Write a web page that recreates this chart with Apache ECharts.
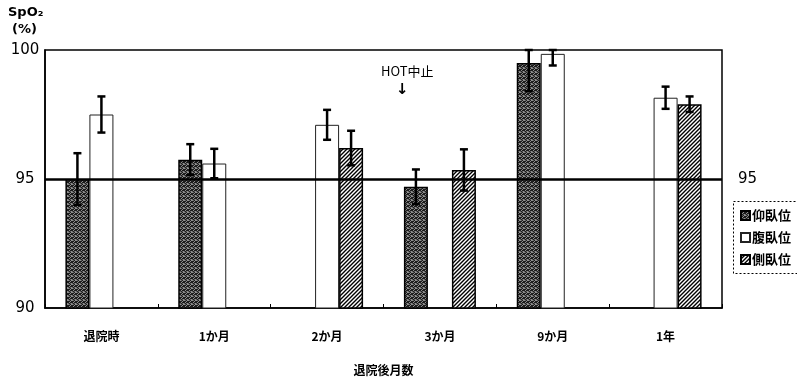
<!DOCTYPE html>
<html>
<head>
<meta charset="utf-8">
<script src="https://cdn.jsdelivr.net/npm/echarts@6/dist/echarts.min.js"></script>
<style>
  html, body { margin: 0; padding: 0; background: #fff; }
  #chart { width: 797px; height: 378px; }
</style>
</head>
<body>
<div id="chart"></div>
<script>
// Months after discharge
const categories = ['退院時', '1か月', '2か月', '3か月', '9か月', '1年'];

// Mean SpO2 (%) by position, with error half-widths
const supine = [95.0, 95.75, null, 94.7, 99.5, null];      // 仰臥位
const supineErr = [1.0, 0.6, null, 0.67, 1.1, null];
const prone = [97.5, 95.6, 97.1, null, 99.85, 98.15];      // 腹臥位
const proneErr = [0.7, 0.57, 0.58, null, 0.45, 0.43];
const lateral = [null, null, 96.2, 95.35, null, 97.9];     // 側臥位
const lateralErr = [null, null, 0.67, 0.8, null, 0.3];

const yMin = 90, yMax = 100, yStep = 5;
const refLine = 95;

// Fill patterns: dark halftone and diagonal hatching
function stipple() {
  const c = document.createElement('canvas');
  c.width = 4; c.height = 4;
  const g = c.getContext('2d');
  g.fillStyle = '#1c1c1c';
  g.fillRect(0, 0, 4, 4);
  g.fillStyle = '#8e8e8e';
  [[0, 0], [2, 1], [1, 2], [3, 3], [3, 0]].forEach(p => g.fillRect(p[0], p[1], 1, 1));
  g.fillStyle = '#5a5a5a';
  [[2, 3], [0, 3], [1, 0]].forEach(p => g.fillRect(p[0], p[1], 1, 1));
  return c;
}
function hatch() {
  const s = 4;
  const c = document.createElement('canvas');
  c.width = s; c.height = s;
  const g = c.getContext('2d');
  g.fillStyle = '#fff';
  g.fillRect(0, 0, s, s);
  g.strokeStyle = '#000';
  g.lineWidth = 1.4;
  g.beginPath();
  g.moveTo(-1, s + 1); g.lineTo(s + 1, -1);
  g.moveTo(-1, 1); g.lineTo(1, -1);
  g.moveTo(s - 1, s + 1); g.lineTo(s + 1, s - 1);
  g.stroke();
  return c;
}

const BAR_W = 24;

function errData(means, errs) {
  const out = [];
  means.forEach((m, i) => {
    if (m != null && errs[i] != null) out.push([i, m - errs[i], m + errs[i]]);
  });
  return out;
}

function errorSeries(name, means, errs, slot) {
  return {
    name: name,
    type: 'custom',
    z: 5,
    silent: true,
    clip: false,
    data: errData(means, errs),
    renderItem: function (params, api) {
      const idx = api.value(0);
      const lo = api.coord([idx, api.value(1)]);
      const hiVal = Math.min(api.value(2), yMax);
      const hi = api.coord([idx, hiVal]);
      const x = lo[0] + (slot - 1) * BAR_W;
      const cap = 4;
      const style = { stroke: '#000', lineWidth: 2.5 };
      return {
        type: 'group',
        children: [
          { type: 'line', shape: { x1: x, y1: lo[1], x2: x, y2: hi[1] }, style: style },
          { type: 'line', shape: { x1: x - cap, y1: hi[1], x2: x + cap, y2: hi[1] }, style: style },
          { type: 'line', shape: { x1: x - cap, y1: lo[1], x2: x + cap, y2: lo[1] }, style: style }
        ]
      };
    }
  };
}

const chart = echarts.init(document.getElementById('chart'));
const jp = '"Noto Sans CJK JP", "Noto Sans", sans-serif';
const num = '"DejaVu Sans", "Liberation Sans", sans-serif';

chart.setOption({
  animation: false,
  backgroundColor: '#fff',
  grid: {
    left: 45, right: 75, top: 50, bottom: 70,
    outerBoundsMode: 'none',
    show: true, borderColor: '#000', borderWidth: 1.5, backgroundColor: 'transparent'
  },
  legend: {
    data: ['仰臥位', '腹臥位', '側臥位'],
    orient: 'vertical',
    left: 735, top: 204,
    itemWidth: 9, itemHeight: 9, itemGap: 9,
    icon: 'rect',
    textStyle: { fontFamily: jp, fontSize: 13, fontWeight: 'bold', color: '#000', padding: [0, 0, 0, -3] },
    selectedMode: false
  },
  graphic: [
    {
      type: 'rect',
      left: 731, top: 199,
      shape: { width: 66, height: 72 },
      style: { fill: 'none', stroke: '#000', lineWidth: 1, lineDash: [2, 2] }
    },
    {
      type: 'text', left: 8, top: 6,
      style: { text: 'SpO₂', font: 'bold 13px ' + num, fill: '#000' }
    },
    {
      type: 'text', left: 12, top: 23,
      style: { text: '(%)', font: 'bold 13px ' + num, fill: '#000' }
    },
    {
      type: 'text', left: 381, top: 65,
      style: { text: 'HOT中止', font: '13px ' + jp, fill: '#000' }
    },
    {
      type: 'text', left: 396, top: 83,
      style: { text: '↓', font: 'bold 15px ' + num, fill: '#000' }
    }
  ],
  xAxis: {
    type: 'category',
    data: categories,
    axisLine: { show: true, lineStyle: { color: '#000', width: 1.5 } },
    axisTick: { show: true, inside: true, length: 4, lineStyle: { color: '#000' } },
    axisLabel: { fontFamily: jp, fontSize: 12, fontWeight: 'bold', color: '#000', margin: 22 },
    name: '退院後月数',
    nameLocation: 'middle',
    nameGap: 56,
    nameTextStyle: { fontFamily: jp, fontSize: 12, fontWeight: 'bold', color: '#000' }
  },
  yAxis: {
    type: 'value',
    min: yMin, max: yMax, interval: yStep,
    axisLine: { show: true, lineStyle: { color: '#000', width: 1.5 } },
    axisTick: { show: false },
    splitLine: { show: false },
    axisLabel: { fontFamily: num, fontSize: 15, color: '#000', margin: 20, align: 'center' }
  },
  series: [
    {
      name: '仰臥位', type: 'bar', data: supine,
      barWidth: BAR_W, barGap: '0%',
      itemStyle: { color: { image: stipple(), repeat: 'repeat' }, borderColor: '#000', borderWidth: 1.5 },
      markLine: {
        silent: true, symbol: 'none',
        lineStyle: { color: '#000', width: 2.5, type: 'solid' },
        label: { show: true, position: 'end', formatter: String(refLine), distance: 16,
                 fontFamily: num, fontSize: 15, color: '#000' },
        data: [{ yAxis: refLine }]
      }
    },
    {
      name: '腹臥位', type: 'bar', data: prone,
      barWidth: BAR_W, barGap: '0%',
      itemStyle: { color: '#fff', borderColor: '#222', borderWidth: 1 }
    },
    {
      name: '側臥位', type: 'bar', data: lateral,
      barWidth: BAR_W, barGap: '0%',
      itemStyle: { color: { image: hatch(), repeat: 'repeat' }, borderColor: '#000', borderWidth: 1.5 }
    },
    errorSeries('err-supine', supine, supineErr, 0),
    errorSeries('err-prone', prone, proneErr, 1),
    errorSeries('err-lateral', lateral, lateralErr, 2)
  ]
});
</script>
</body>
</html>
